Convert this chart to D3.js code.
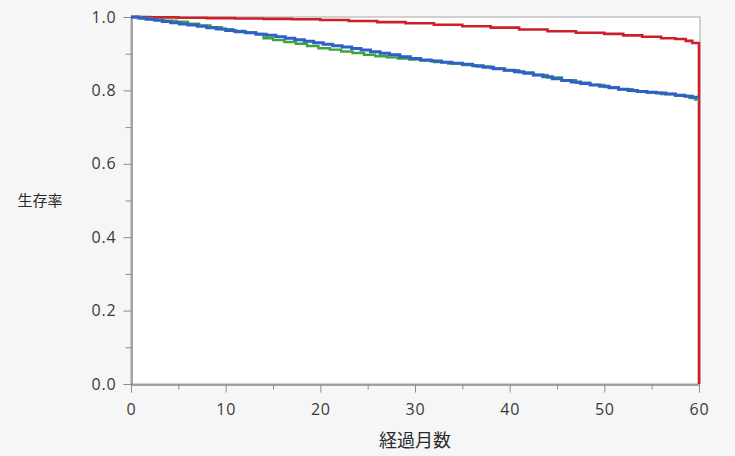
<!DOCTYPE html>
<html>
<head>
<meta charset="utf-8">
<script src="https://cdn.jsdelivr.net/npm/d3@7"></script>
<style>
  html, body { margin: 0; padding: 0; background: #f6f6f6; }
  svg { display: block; }
  .tick text { font-family: "Open Sans", "Noto Sans", sans-serif; font-size: 16px; letter-spacing: 0.8px; fill: #3a3a3a; }
  .title { font-family: "Noto Sans CJK JP", sans-serif; fill: #2a2a2a; }
</style>
</head>
<body>
<svg id="chart" width="735" height="456"></svg>
<script>
// Kaplan–Meier survival estimates: [months, survival] at each step
const seriesRed = [
  [0, 1.000], [2, 0.999], [5, 0.998], [8, 0.997], [11, 0.996], [14, 0.995],
  [17, 0.994], [20, 0.992], [23, 0.989], [26, 0.986], [29, 0.983], [32, 0.979],
  [35, 0.975], [38, 0.971], [41, 0.966], [44, 0.961], [47, 0.957], [50, 0.954],
  [52, 0.950], [54, 0.946], [56, 0.942], [57.5, 0.940], [58.6, 0.935],
  [59.3, 0.929], [60, 0.000]
];
const seriesGreen = [
  [0, 1.000], [1.0, 0.996], [2.2, 0.993], [3.5, 0.990], [4.8, 0.987], [6.0, 0.982],
  [7.2, 0.977], [8.4, 0.972], [9.6, 0.967], [10.8, 0.962], [12.0, 0.958],
  [13.2, 0.954], [14.0, 0.942], [15.0, 0.937], [16.2, 0.932], [17.4, 0.927],
  [18.6, 0.921], [19.8, 0.915], [21.0, 0.911], [22.2, 0.906], [23.4, 0.902],
  [24.6, 0.897], [25.8, 0.893], [27.0, 0.890], [28.2, 0.887], [29.4, 0.884],
  [30.6, 0.881], [32.0, 0.877], [33.5, 0.873], [35.0, 0.869], [36.5, 0.865],
  [38.0, 0.860], [39.5, 0.855], [41.0, 0.849], [42.5, 0.842], [44.0, 0.835],
  [45.5, 0.828], [47.0, 0.821], [48.5, 0.815], [50.0, 0.809], [51.5, 0.803],
  [53.0, 0.798], [54.5, 0.794], [56.0, 0.790], [57.5, 0.785], [59.0, 0.779],
  [59.6, 0.775], [60, 0.775]
];
const seriesBlue = [
  [0, 1.000], [0.8, 0.997], [1.6, 0.994], [2.5, 0.991], [3.3, 0.988], [4.2, 0.984],
  [5.1, 0.981], [6.0, 0.978], [7.0, 0.975], [8.0, 0.971], [9.0, 0.967], [10.0, 0.963],
  [11.0, 0.960], [12.1, 0.957], [13.2, 0.953], [14.3, 0.950], [15.3, 0.946],
  [16.3, 0.942], [17.3, 0.938], [18.3, 0.934], [19.3, 0.930], [20.3, 0.926],
  [21.3, 0.922], [22.3, 0.918], [23.3, 0.914], [24.3, 0.910], [25.3, 0.905],
  [26.3, 0.901], [27.3, 0.897], [28.4, 0.892], [29.5, 0.887], [30.6, 0.883],
  [31.7, 0.880], [32.8, 0.877], [33.9, 0.874], [35.0, 0.871], [36.1, 0.867],
  [37.2, 0.863], [38.3, 0.859], [39.4, 0.855], [40.5, 0.851], [41.5, 0.847],
  [42.5, 0.842], [43.5, 0.837], [44.5, 0.832], [45.5, 0.827], [46.5, 0.823],
  [47.5, 0.819], [48.5, 0.815], [49.5, 0.811], [50.5, 0.807], [51.5, 0.803],
  [52.5, 0.800], [53.5, 0.797], [54.5, 0.795], [55.5, 0.793], [56.5, 0.790],
  [57.5, 0.787], [58.5, 0.784], [59.3, 0.781], [60, 0.781]
];
const xTicks = [0, 10, 20, 30, 40, 50, 60];
const xMinorTicks = [5, 15, 25, 35, 45, 55];
const yTicks = [0, 0.2, 0.4, 0.6, 0.8, 1.0];
const yMinorTicks = [0.1, 0.3, 0.5, 0.7, 0.9];
const xTitle = "経過月数";
const yTitle = "生存率";

const svg = d3.select("#chart");
const plotLeft = 131, plotRight = 699, plotTop = 17, plotBottom = 384;

const x = d3.scaleLinear().domain([0, 60]).range([plotLeft, plotRight]);
const y = d3.scaleLinear().domain([0, 1]).range([plotBottom, plotTop]);

// plot area
svg.append("rect")
  .attr("x", plotLeft).attr("y", plotTop)
  .attr("width", plotRight - plotLeft + 1).attr("height", plotBottom - plotTop)
  .attr("fill", "#ffffff")
  .attr("stroke", "#a8a8a8").attr("stroke-width", 1);

function styleAxis(g) {
  g.select(".domain").attr("stroke", "#8c8c8c");
  g.selectAll(".tick line").attr("stroke", "#8c8c8c");
}

// y axis with minor ticks
svg.append("g").attr("transform", `translate(${plotLeft + 0.5},0)`)
  .call(d3.axisLeft(y).tickValues(yMinorTicks).tickSize(6).tickFormat(""))
  .call(styleAxis);
svg.append("g").attr("transform", `translate(${plotLeft + 0.5},0)`)
  .call(d3.axisLeft(y).tickValues(yTicks).tickSize(8).tickPadding(7).tickFormat(d3.format(".1f")))
  .call(styleAxis);

// x axis with minor ticks
svg.append("g").attr("transform", `translate(0,${plotBottom + 0.5})`)
  .call(d3.axisBottom(x).tickValues(xMinorTicks).tickSize(5).tickFormat(""))
  .call(styleAxis);
svg.append("g").attr("transform", `translate(0,${plotBottom + 0.5})`)
  .call(d3.axisBottom(x).tickValues(xTicks).tickSize(8).tickPadding(11).tickFormat(d3.format("d")))
  .call(styleAxis);

// survival curves
const line = d3.line()
  .x(d => x(d[0]))
  .y(d => y(d[1]))
  .curve(d3.curveStepAfter);

[
  { data: seriesRed, color: "#cc1f2b", width: 2.6 },
  { data: seriesGreen, color: "#3aa63a", width: 2.4 },
  { data: seriesBlue, color: "#2f5fc8", width: 3 }
].forEach(s => {
  svg.append("path")
    .datum(s.data)
    .attr("fill", "none")
    .attr("stroke", s.color)
    .attr("stroke-width", s.width)
    .attr("d", line);
});

// axis titles
svg.append("text").attr("class", "title")
  .attr("x", (plotLeft + plotRight) / 2).attr("y", 447)
  .attr("text-anchor", "middle")
  .style("font-size", "18px")
  .text(xTitle);
svg.append("text").attr("class", "title")
  .attr("x", 40).attr("y", 206)
  .attr("text-anchor", "middle")
  .style("font-size", "15px")
  .text(yTitle);
</script>
</body>
</html>
